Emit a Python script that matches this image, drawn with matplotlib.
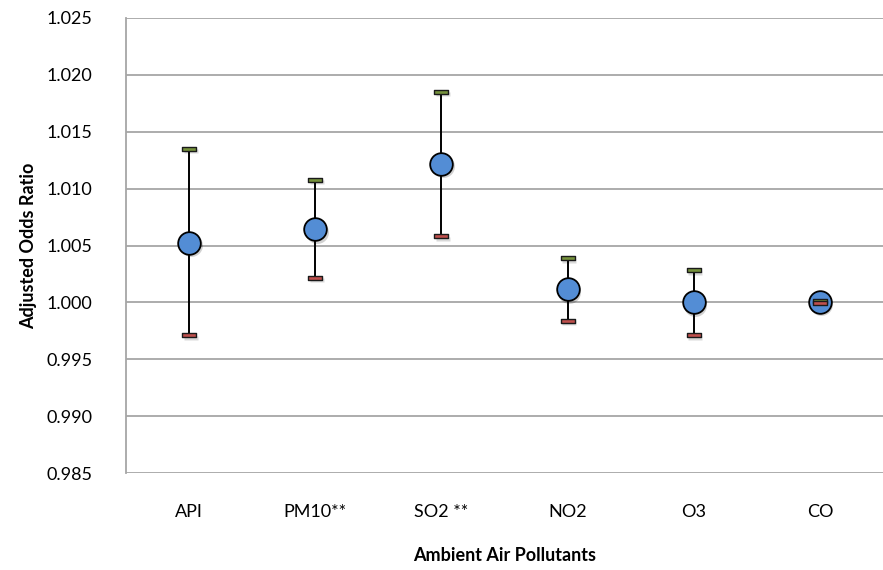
import matplotlib
matplotlib.use("Agg")
import matplotlib.pyplot as plt
import matplotlib.transforms as mtransforms
from matplotlib.path import Path

# adjusted odds ratios with 95% CI
pollutants = ["API", "PM10**", "SO2 **", "NO2", "O3", "CO"]
odds_ratio = [1.00526, 1.00644, 1.01217, 1.00116, 1.00000, 1.00005]
ci_low = [0.99711, 1.00216, 1.00583, 0.99840, 0.99711, 0.99996]
ci_high = [1.01352, 1.01077, 1.01853, 1.00389, 1.00283, 1.00013]
y_ticks = [0.985, 0.990, 0.995, 1.000, 1.005, 1.010, 1.015, 1.020, 1.025]

plt.rcParams["font.family"] = ["Lato", "DejaVu Sans"]

fig = plt.figure(figsize=(8.83, 5.70), dpi=100)
ax = fig.add_axes([0.1427, 0.170, 0.8573, 0.7985])

x = list(range(len(pollutants)))

# flat cap marker (small bar like Excel high/low ticks)
cap = Path([(-1, -0.28), (1, -0.28), (1, 0.28), (-1, 0.28), (-1, -0.28)],
           [Path.MOVETO, Path.LINETO, Path.LINETO, Path.LINETO, Path.CLOSEPOLY])

shadow = mtransforms.offset_copy(ax.transData, fig=fig, x=1.5, y=-2.5, units="dots")

# soft shadows
ax.plot(x, odds_ratio, "o", ms=16.5, color="black", alpha=0.18, mec="none",
        transform=shadow, zorder=2)
ax.plot(x, ci_low, ls="none", marker=cap, ms=10, color="black", alpha=0.15,
        mec="none", transform=shadow, zorder=2)
ax.plot(x, ci_high, ls="none", marker=cap, ms=10, color="black", alpha=0.15,
        mec="none", transform=shadow, zorder=2)

ax.vlines(x, ci_low, ci_high, color="black", lw=1.4, zorder=3)
ax.plot(x, odds_ratio, "o", ms=16.3, mfc="#538DD5", mec="black", mew=1.3, zorder=4)
ax.plot(x, ci_high, ls="none", marker=cap, ms=9.5, mfc="#76923C", mec="#1a1a1a",
        mew=1.0, zorder=5)
ax.plot(x, ci_low, ls="none", marker=cap, ms=9.5, mfc="#C0504D", mec="#1a1a1a",
        mew=1.0, zorder=5)

ax.set_xlim(-0.5, len(pollutants) - 0.5)
ax.set_ylim(0.985, 1.025)
ax.set_yticks(y_ticks)
ax.set_yticklabels([f"{v:.3f}" for v in y_ticks])
ax.set_xticks(x)
ax.set_xticklabels(pollutants)
ax.tick_params(length=0, labelsize=13, colors="black")
ax.tick_params(axis="x", pad=22)
ax.tick_params(axis="y", pad=24)

ax.grid(True, axis="y", color="#a6a6a6", lw=1.3)
ax.set_axisbelow(True)
for side in ["top", "right", "bottom"]:
    ax.spines[side].set_visible(False)
ax.spines["left"].set_color("#a6a6a6")
ax.spines["left"].set_linewidth(1.3)

ax.set_ylabel("Adjusted Odds Ratio", fontsize=13, fontweight="bold", labelpad=7)
ax.set_xlabel("Ambient Air Pollutants", fontsize=13, fontweight="bold", labelpad=20)

fig.savefig("out.png", dpi=100)
